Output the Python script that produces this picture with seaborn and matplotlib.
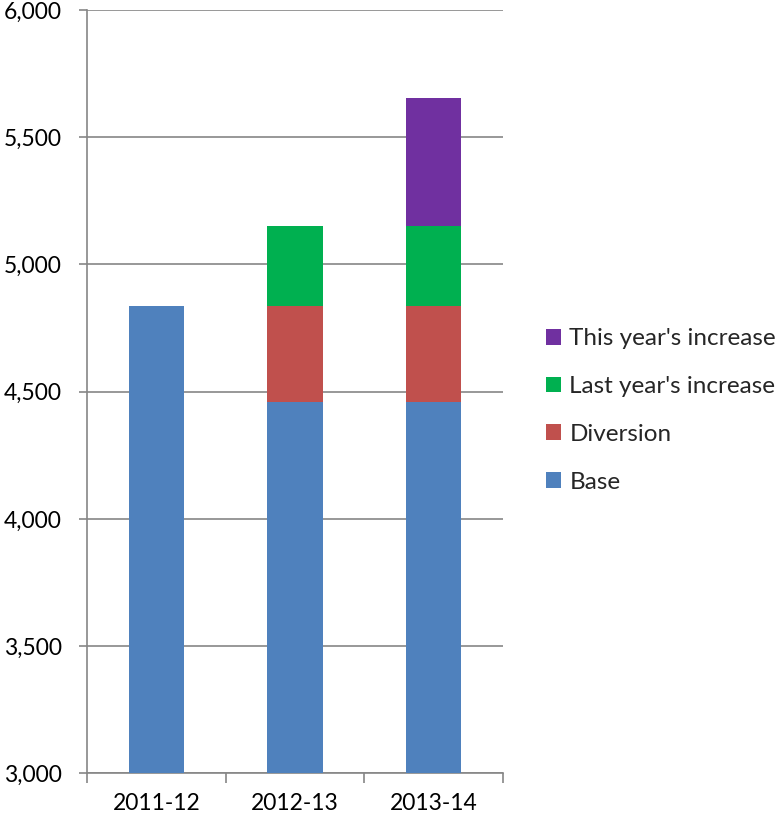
import matplotlib
matplotlib.use("Agg")
import matplotlib.pyplot as plt
from matplotlib.patches import Patch
from matplotlib.ticker import FuncFormatter, FixedLocator
import numpy as np
import pandas as pd
import seaborn as sns

years = ["2011-12", "2012-13", "2013-14"]
base = [4835, 4461, 4461]
diversion = [0, 374, 374]
last_year_increase = [0, 318, 318]
this_year_increase = [0, 0, 502]

series_names = ["Base", "Diversion", "Last year's increase", "This year's increase"]
series_colors = ["#4F81BD", "#C0504D", "#00B050", "#7030A0"]

sns.set_theme(style="white")
plt.rcParams["font.family"] = ["Lato", "DejaVu Sans"]

grey = "#868686"
fig = plt.figure(figsize=(7.82, 8.22), dpi=100)
ax = fig.add_axes([0.1113, 0.0592, 0.6432 - 0.1113, 0.9878 - 0.0592])

# stacked bars: draw running totals from the tallest layer down
layers = [base, diversion, last_year_increase, this_year_increase]
cumulative = np.cumsum(np.array(layers), axis=0)
for i in range(len(layers) - 1, -1, -1):
    df = pd.DataFrame({"year": years, "value": cumulative[i]})
    sns.barplot(data=df, x="year", y="value", color=series_colors[i],
                saturation=1, width=0.4, ax=ax, zorder=3,
                edgecolor="none", linewidth=0)

ax.set_ylim(3000, 6000)
ax.set_xlim(-0.5, 2.5)
ax.set_yticks(np.arange(3000, 6001, 500))
ax.yaxis.set_major_formatter(FuncFormatter(lambda v, p: f"{int(v):,}"))
ax.grid(axis="y", color=grey, linewidth=1.2, zorder=0)
ax.set_axisbelow(True)
ax.set_xlabel("")
ax.set_ylabel("")

for side in ["top", "right"]:
    ax.spines[side].set_visible(False)
for side in ["left", "bottom"]:
    ax.spines[side].set_color(grey)
    ax.spines[side].set_linewidth(1.2)

ax.tick_params(axis="y", which="major", left=True, length=6, width=1.2,
               color=grey, pad=12, labelsize=16.5, labelcolor="black")
ax.tick_params(axis="x", which="major", bottom=False, pad=8,
               labelsize=16.5, labelcolor="black")
ax.xaxis.set_minor_locator(FixedLocator([-0.5, 0.5, 1.5, 2.5]))
ax.tick_params(axis="x", which="minor", bottom=True, length=7, width=1.2,
               color=grey, direction="out")

handles = [Patch(facecolor=series_colors[i], edgecolor="none", label=series_names[i])
           for i in range(len(series_names) - 1, -1, -1)]
fig.legend(handles=handles, loc="center left", bbox_to_anchor=(0.698, 0.5006),
           frameon=False, fontsize=17.5, handlelength=0.62, handleheight=0.62,
           handletextpad=0.35, labelspacing=1.1, borderpad=0, borderaxespad=0)

fig.savefig("out.png", dpi=100)
